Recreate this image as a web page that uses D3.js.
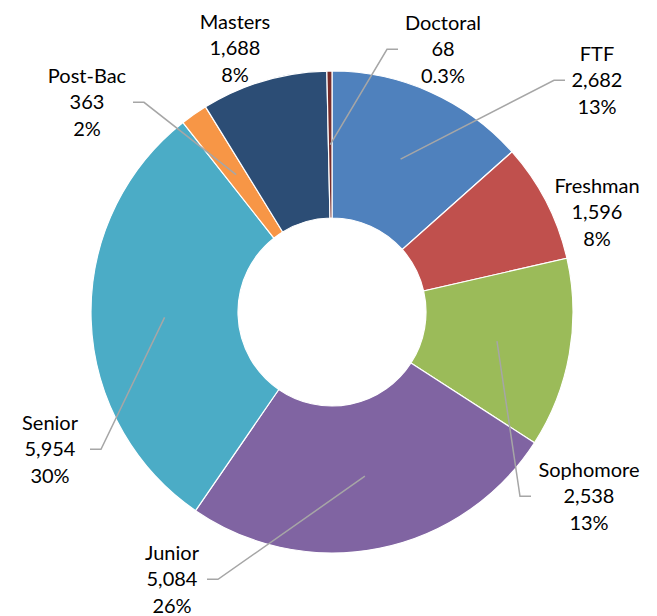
<!DOCTYPE html>
<meta charset="utf-8">
<style>
  body, html { margin:0; padding:0; background:#fff; }
  text { font-family: Lato, "Open Sans", sans-serif; fill:#000; }
</style>
<body>
<svg width="657" height="616"></svg>
<script src="https://d3js.org/d3.v7.min.js"></script>
<script>

// data, clockwise from 12 o'clock
var categories = ["FTF", "Freshman", "Sophomore", "Junior", "Senior", "Post-Bac", "Masters", "Doctoral"];
var counts = [2682, 1596, 2538, 5084, 5954, 363, 1688, 68];
// percent labels as printed on the chart (excel rounding)
var pctLabels = ["13%", "8%", "13%", "26%", "30%", "2%", "8%", "0.3%"];
var colors = ["#4F81BD", "#C0504D", "#9BBB59", "#8064A2", "#4BACC6", "#F79646", "#2C4D75", "#772C2A"];

// where excel put each label block (centre x, first line y) and whether it gets a leader
var labelPos = [
  {x: 597, y: 54,  leader: true,  side: "right"},
  {x: 597, y: 186, leader: false},
  {x: 589, y: 470, leader: true,  side: "right"},
  {x: 172, y: 553, leader: true,  side: "left"},
  {x: 50,  y: 423, leader: true,  side: "left"},
  {x: 87,  y: 76,  leader: true,  side: "left"},
  {x: 235, y: 22,  leader: false},
  {x: 443, y: 23,  leader: true,  side: "right"}
];

var svg = d3.select("svg");
var cx = 332, cy = 312, outerR = 241, innerR = 94;
var lineH = 26.3;

var recs = categories.map(function(c, i) {
  return {name: c, value: counts[i], pct: pctLabels[i], color: colors[i], lab: labelPos[i]};
});

var pie = d3.pie().sort(null).value(function(d) { return d.value; });
var arc = d3.arc().innerRadius(innerR).outerRadius(outerR);
var mid = d3.arc().innerRadius((innerR + outerR) / 2).outerRadius((innerR + outerR) / 2);

var g = svg.append("g").attr("transform", "translate(" + cx + "," + cy + ")");

var arcs = pie(recs);

g.selectAll("path.slice")
  .data(arcs)
  .enter().append("path")
  .attr("class", "slice")
  .attr("d", arc)
  .attr("fill", function(d) { return d.data.color; })
  .attr("stroke", "#fff")
  .attr("stroke-width", 1.2);

var fmt = d3.format(",");

// leader lines: horizontal stub by the label, then straight to the slice middle
g.selectAll("polyline.leader")
  .data(arcs.filter(function(d) { return d.data.lab.leader; }))
  .enter().append("polyline")
  .attr("class", "leader")
  .attr("fill", "none")
  .attr("stroke", "#A6A6A6")
  .attr("stroke-width", 1.5)
  .attr("points", function(d) {
    var c = mid.centroid(d);
    var L = d.data.lab;
    var yMid = L.y + lineH - cy;
    var dir = L.side === "left" ? 1 : -1;
    var xEnd = (d.data.name === "Doctoral" ? L.x - 45 :
                d.data.name === "FTF" ? L.x - 32 :
                d.data.name === "Sophomore" ? L.x - 58 :
                d.data.name === "Junior" ? L.x + 35 :
                d.data.name === "Senior" ? L.x + 40 :
                L.x + 46) - cx;
    var xKnee = xEnd + dir * 11;
    return [[xEnd, yMid], [xKnee, yMid], c].map(function(p) { return p.join(","); }).join(" ");
  });

// labels
var labels = svg.selectAll("g.label")
  .data(arcs)
  .enter().append("g")
  .attr("class", "label");

labels.each(function(d) {
  var L = d.data.lab;
  var t = d3.select(this).append("text")
    .attr("text-anchor", "middle")
    .attr("font-size", "20px");
  [d.data.name, fmt(d.data.value), d.data.pct].forEach(function(s, k) {
    t.append("tspan")
      .attr("x", L.x)
      .attr("y", L.y + k * lineH)
      .attr("dy", "0.35em")
      .text(s);
  });
});

</script>
</body>
